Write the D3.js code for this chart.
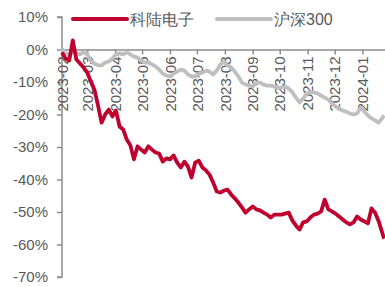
<!DOCTYPE html>
<html>
<head>
<meta charset="utf-8">
<script src="https://cdn.jsdelivr.net/npm/d3@7"></script>
<style>
  body { margin: 0; background: #fff; }
  svg { display: block; font-family: "Liberation Sans", Arial, sans-serif; }
</style>
</head>
<body>
<script>
// dates every 4 days (% change since start)
const dates = [
  "2023-02-01","2023-02-05","2023-02-09","2023-02-13","2023-02-17","2023-02-21","2023-02-25",
  "2023-03-01","2023-03-05","2023-03-09","2023-03-13","2023-03-17","2023-03-21","2023-03-25","2023-03-29",
  "2023-04-02","2023-04-06","2023-04-10","2023-04-14","2023-04-18","2023-04-22","2023-04-26","2023-04-30",
  "2023-05-04","2023-05-08","2023-05-12","2023-05-16","2023-05-20","2023-05-24","2023-05-28",
  "2023-06-01","2023-06-05","2023-06-09","2023-06-13","2023-06-17","2023-06-21","2023-06-25","2023-06-29",
  "2023-07-03","2023-07-07","2023-07-11","2023-07-15","2023-07-19","2023-07-23","2023-07-27","2023-07-31",
  "2023-08-04","2023-08-08","2023-08-12","2023-08-16","2023-08-20","2023-08-24","2023-08-28",
  "2023-09-01","2023-09-05","2023-09-09","2023-09-13","2023-09-17","2023-09-21","2023-09-25","2023-09-29",
  "2023-10-03","2023-10-07","2023-10-11","2023-10-15","2023-10-19","2023-10-23","2023-10-27","2023-10-31",
  "2023-11-04","2023-11-08","2023-11-12","2023-11-16","2023-11-20","2023-11-24","2023-11-28",
  "2023-12-02","2023-12-06","2023-12-10","2023-12-14","2023-12-18","2023-12-22","2023-12-26","2023-12-30",
  "2024-01-03","2024-01-07","2024-01-11","2024-01-15","2024-01-19","2024-01-25"
];

const kelu = [
  -0.9,-2.8,-3.4,2.8,-3.1,-4.3,-5.5,
  -7.1,-9.8,-12.3,-17.2,-22.5,-20.0,-18.5,-20.6,
  -18.8,-23.7,-24.6,-27.7,-29.5,-33.8,-29.8,-30.8,
  -31.7,-29.8,-30.8,-31.7,-32.0,-34.5,-33.5,
  -33.8,-32.6,-34.8,-36.3,-34.5,-36.0,-39.4,-34.8,
  -34.2,-36.3,-37.2,-38.5,-40.9,-43.7,-44.0,-43.4,
  -43.1,-44.6,-45.8,-47.1,-48.6,-50.2,-49.2,
  -48.3,-49.2,-49.5,-50.2,-50.8,-51.7,-50.8,-50.8,
  -50.8,-50.5,-50.2,-52.6,-54.2,-55.4,-53.2,-52.9,
  -51.7,-50.8,-50.5,-49.8,-46.2,-49.2,-49.8,
  -50.5,-51.4,-52.3,-53.2,-53.8,-53.2,-51.4,-52.3,
  -52.9,-53.5,-48.9,-50.2,-52.9,-58.2
];

const hs300 = [
  0.3,-1.2,-1.5,-0.6,-1.2,-1.5,-0.9,
  -1.5,-3.4,-4.3,-4.9,-4.9,-4.0,-3.7,-2.8,
  -1.5,-1.2,-1.5,-0.9,-1.5,-2.2,-2.5,-3.4,
  -4.0,-4.0,-4.6,-5.2,-6.2,-7.4,-8.0,
  -8.3,-7.4,-6.8,-6.2,-6.5,-7.7,-8.3,-8.3,
  -7.4,-7.1,-6.5,-6.8,-7.7,-6.5,-4.6,-3.7,
  -4.9,-5.5,-6.8,-8.3,-10.2,-10.8,-11.1,
  -11.4,-10.2,-10.2,-10.8,-11.1,-11.1,-11.4,-11.7,
  -11.7,-11.4,-12.0,-13.2,-14.8,-16.3,-15.1,-13.5,
  -13.2,-13.2,-13.5,-14.2,-14.8,-15.4,-16.6,
  -17.5,-18.2,-18.8,-19.1,-19.7,-20.0,-19.7,-17.8,
  -19.1,-20.3,-21.2,-21.8,-22.5,-20.3
];

const yTicks = [10, 0, -10, -20, -30, -40, -50, -60, -70];
const seriesNames = ["科陆电子", "沪深300"];
const colors = ["#C0002F", "#BFBFBF"];

const width = 385, height = 287;
const parse = d3.timeParse("%Y-%m-%d");
const rows = dates.map((d, i) => ({ date: parse(d), kelu: kelu[i], hs300: hs300[i] }));

const svg = d3.select("body").append("svg")
  .attr("width", width)
  .attr("height", height);

const x = d3.scaleTime()
  .domain([parse("2023-02-01"), parse("2024-01-26")])
  .range([62, 385]);

const y = d3.scaleLinear()
  .domain([-70, 10])
  .range([277, 17]);

// y axis
const yAxis = svg.append("g")
  .attr("transform", "translate(62,0)")
  .call(d3.axisLeft(y).tickValues(yTicks).tickSize(5).tickPadding(9)
    .tickFormat(d => d + "%"));

// x axis sits on the 0% line
const xAxis = svg.append("g")
  .attr("transform", `translate(0,${y(0)})`)
  .call(d3.axisBottom(x).ticks(d3.timeMonth.every(1)).tickSize(5)
    .tickSizeOuter(0).tickFormat(d3.timeFormat("%Y-%m")));

xAxis.selectAll("text")
  .attr("transform", "rotate(-90)")
  .attr("x", -7)
  .attr("y", 0)
  .attr("dy", "0.35em")
  .style("text-anchor", "end");

[yAxis, xAxis].forEach(g => {
  g.select(".domain").attr("stroke", "#8c8c8c").attr("stroke-width", 1.5);
  g.selectAll(".tick line").attr("stroke", "#8c8c8c").attr("stroke-width", 1.5);
  g.selectAll("text").attr("fill", "#595959").style("font-size", "15px");
});
yAxis.select(".domain").attr("d", `M-5,${y(10)}H0V${y(-70)}H-5`);

const line = key => d3.line()
  .x(d => x(d.date))
  .y(d => y(d[key]));

svg.append("path")
  .datum(rows)
  .attr("fill", "none")
  .attr("stroke", colors[1])
  .attr("stroke-width", 3.8)
  .attr("stroke-linejoin", "round")
  .attr("d", line("hs300"));

svg.append("path")
  .datum(rows)
  .attr("fill", "none")
  .attr("stroke", colors[0])
  .attr("stroke-width", 3.8)
  .attr("stroke-linejoin", "round")
  .attr("d", line("kelu"));

// legend
const legend = svg.append("g");
const legX = [73, 217];
seriesNames.forEach((name, i) => {
  legend.append("line")
    .attr("x1", legX[i]).attr("x2", legX[i] + 54)
    .attr("y1", 19).attr("y2", 19)
    .attr("stroke", colors[i])
    .attr("stroke-width", 4)
    .attr("stroke-linecap", "round");
  legend.append("text")
    .attr("x", legX[i] + 57)
    .attr("y", 25)
    .attr("fill", "#595959")
    .style("font-size", "16px")
    .text(name);
});
</script>
</body>
</html>
